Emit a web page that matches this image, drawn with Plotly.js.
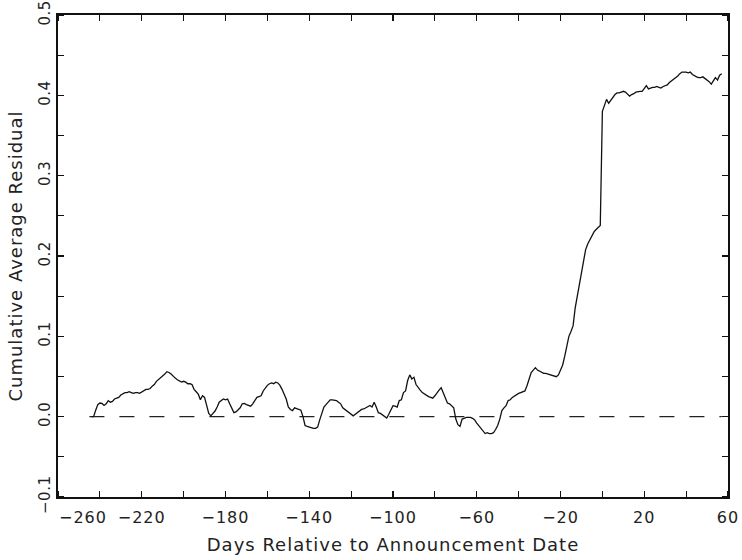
<!DOCTYPE html>
<html>
<head>
<meta charset="utf-8">
<script src="https://cdn.plot.ly/plotly-3.0.1.min.js"></script>
<style>
  html, body { margin: 0; padding: 0; background: #fff; }
  #chart { width: 742px; height: 560px; }
  #chart .xtick text, #chart .annotation-text { letter-spacing: 1px; }
  #chart .ytick text { letter-spacing: 0.5px; }
  #chart .g-xtitle text, #chart .g-ytitle text { letter-spacing: 1px; }
</style>
</head>
<body>
<div id="chart"></div>
<script>
// Days relative to announcement date
const days = [
  -244,-243,-242,-241,-240,-239,-238,-237,-236,-235,-234,-233,-232,-231,-230,-229,-228,-227,-226,-225,
  -224,-223,-222,-221,-220,-219,-218,-217,-216,-215,-214,-213,-212,-211,-210,-209,-208,-207,-206,-205,
  -204,-203,-202,-201,-200,-199,-198,-197,-196,-195,-194,-193,-192,-191,-190,-189,-188,-187,-186,-185,
  -184,-183,-182,-181,-180,-179,-178,-177,-176,-175,-174,-173,-172,-171,-170,-169,-168,-167,-166,-165,
  -164,-163,-162,-161,-160,-159,-158,-157,-156,-155,-154,-153,-152,-151,-150,-149,-148,-147,-146,-145,
  -144,-143,-142,-141,-140,-139,-138,-137,-136,-135,-134,-133,-132,-131,-130,-129,-128,-127,-126,-125,
  -124,-123,-122,-121,-120,-119,-118,-117,-116,-115,-114,-113,-112,-111,-110,-109,-108,-107,-106,-105,
  -104,-103,-102,-101,-100,-99,-98,-97,-96,-95,-94,-93,-92,-91,-90,-89,-88,-87,-86,-85,
  -84,-83,-82,-81,-80,-79,-78,-77,-76,-75,-74,-73,-72,-71,-70,-69,-68,-67,-66,-65,
  -64,-63,-62,-61,-60,-59,-58,-57,-56,-55,-54,-53,-52,-51,-50,-49,-48,-47,-46,-45,
  -44,-43,-42,-41,-40,-39,-38,-37,-36,-35,-34,-33,-32,-31,-30,-29,-28,-27,-26,-25,
  -24,-23,-22,-21,-20,-19,-18,-17,-16,-15,-14,-13,-12,-11,-10,-9,-8,-7,-6,-5,
  -4,-3,-2,-1,0,1,2,3,4,5,6,7,8,9,10,11,12,13,14,15,
  16,17,18,19,20,21,22,23,24,25,26,27,28,29,30,31,32,33,34,35,
  36,37,38,39,40,41,42,43,44,45,46,47,48,49,50,51,52,53,54,55,
  56,57
];

// Cumulative average residual
const car = [
  0.000,0.000,0.008,0.015,0.017,0.0165,0.014,0.016,0.020,0.018,0.019,0.022,0.023,0.024,0.027,0.029,0.030,0.030,0.031,0.030,
  0.029,0.030,0.030,0.029,0.031,0.032,0.034,0.034,0.035,0.038,0.040,0.044,0.046,0.049,0.051,0.053,0.056,0.055,0.053,0.050,
  0.048,0.046,0.045,0.043,0.044,0.043,0.041,0.041,0.040,0.034,0.031,0.028,0.021,0.026,0.024,0.014,0.004,0.001,0.004,0.007,
  0.012,0.018,0.020,0.022,0.021,0.022,0.016,0.011,0.005,0.006,0.008,0.011,0.016,0.0165,0.015,0.014,0.013,0.016,0.021,0.024,
  0.025,0.026,0.032,0.036,0.039,0.041,0.042,0.041,0.043,0.042,0.039,0.034,0.028,0.022,0.012,0.009,0.0075,0.011,0.010,0.009,
  0.008,0.000,-0.011,-0.012,-0.013,-0.014,-0.0145,-0.0145,-0.013,-0.004,0.004,0.012,0.015,0.018,0.021,0.021,0.020,0.020,0.018,0.016,
  0.011,0.009,0.0066,0.005,0.0033,0.001,0.003,0.005,0.008,0.009,0.0096,0.011,0.0116,0.014,0.012,0.018,0.012,0.005,0.004,0.002,
  0.000,-0.0016,0.003,0.0075,0.0137,0.013,0.012,0.020,0.021,0.030,0.032,0.045,0.052,0.047,0.049,0.040,0.036,0.033,0.030,0.028,
  0.026,0.025,0.024,0.023,0.026,0.030,0.033,0.036,0.030,0.022,0.017,0.016,0.013,0.011,-0.003,-0.010,-0.012,-0.003,-0.002,-0.001,
  -0.001,-0.001,-0.002,-0.004,-0.008,-0.011,-0.015,-0.018,-0.021,-0.020,-0.021,-0.021,-0.020,-0.016,-0.011,-0.003,0.0075,0.011,0.0137,0.020,
  0.021,0.024,0.026,0.027,0.029,0.030,0.031,0.032,0.0385,0.048,0.055,0.058,0.061,0.058,0.057,0.055,0.054,0.054,0.053,0.052,
  0.051,0.050,0.0497,0.052,0.057,0.064,0.075,0.088,0.100,0.106,0.113,0.135,0.150,0.165,0.178,0.195,0.208,0.215,0.220,0.226,
  0.230,0.233,0.236,0.238,0.380,0.388,0.395,0.390,0.394,0.398,0.401,0.403,0.403,0.404,0.405,0.404,0.401,0.399,0.401,0.402,
  0.404,0.405,0.405,0.405,0.408,0.412,0.408,0.409,0.410,0.410,0.411,0.410,0.409,0.411,0.412,0.413,0.416,0.418,0.419,0.421,
  0.424,0.427,0.429,0.429,0.429,0.428,0.429,0.426,0.424,0.423,0.422,0.422,0.423,0.421,0.420,0.417,0.414,0.418,0.422,0.419,
  0.425,0.427
];

// Zero reference line (dashed)
const zeroX = [-245, 57];
const zeroY = [0, 0];

// Tick labels
const xTickVals = [-220, -180, -140, -100, -60, -20, 20, 60];
const xTickText = ["\u2212220", "\u2212180", "\u2212140", "\u2212100", "\u221260", "\u221220", "20", "60"];
const xFirstLabel = "\u2212260";
const yTickVals = [-0.1, 0.0, 0.1, 0.2, 0.3, 0.4, 0.5];
const yTickText = ["\u22120.1", "0.0", "0.1", "0.2", "0.3", "0.4", "0.5"];

const FONT = "DejaVu Sans, Arial, sans-serif";
const INK = "#222";

const traces = [
  {
    x: zeroX, y: zeroY, type: "scatter", mode: "lines",
    line: { color: INK, width: 1.4, dash: "15px,15px" },
    hoverinfo: "skip", showlegend: false
  },
  {
    x: days, y: car, type: "scatter", mode: "lines",
    line: { color: "#111", width: 1.3 },
    showlegend: false
  }
];

const layout = {
  width: 742, height: 560,
  margin: { l: 58, r: 14, t: 15, b: 63 },
  paper_bgcolor: "#fff", plot_bgcolor: "#fff",
  font: { family: FONT, color: INK, size: 16 },
  showlegend: false,
  xaxis: {
    range: [-260, 60],
    showgrid: false, zeroline: false,
    showline: true, linecolor: "#111", linewidth: 2, mirror: "ticks",
    ticks: "", tickmode: "array", tickvals: xTickVals, ticktext: xTickText,
    ticklabelstandoff: 5,
    ticklabeloverflow: "allow",
    tickfont: { family: FONT, size: 16, color: INK },
    minor: { dtick: 20, tick0: -260, ticks: "inside", ticklen: 6, tickwidth: 1.2, tickcolor: "#111", showgrid: false },
    title: { text: "Days Relative to Announcement Date", font: { family: FONT, size: 18, color: INK }, standoff: 12 }
  },
  yaxis: {
    range: [-0.1, 0.5],
    showgrid: false, zeroline: false,
    showline: true, linecolor: "#111", linewidth: 2, mirror: "ticks",
    ticks: "", tickmode: "array", tickvals: yTickVals, ticktext: yTickText,
    tickangle: -90,
    ticklabeloverflow: "allow",
    tickfont: { family: FONT, size: 15, color: INK },
    minor: { dtick: 0.05, tick0: -0.1, ticks: "inside", ticklen: 6, tickwidth: 1.2, tickcolor: "#111", showgrid: false },
    title: { text: "Cumulative Average Residual", font: { family: FONT, size: 18, color: INK }, standoff: 9 }
  },
  annotations: [
    {
      text: xFirstLabel, xref: "x", yref: "paper", x: -260, y: 0,
      xanchor: "center", yanchor: "top", xshift: 25, yshift: -9,
      showarrow: false, font: { family: FONT, size: 16, color: INK }
    }
  ]
};

Plotly.newPlot("chart", traces, layout, { staticPlot: true, displayModeBar: false });
</script>
</body>
</html>
